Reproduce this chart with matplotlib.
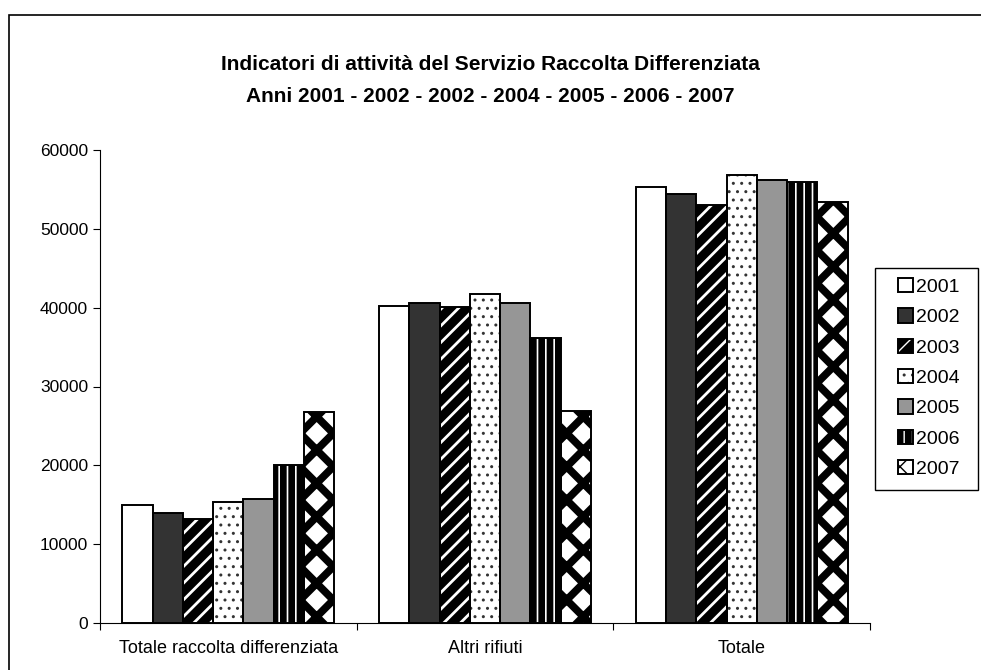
import matplotlib.pyplot as plt
from matplotlib.patches import Patch, Rectangle
import numpy as np

plt.rcParams['font.family'] = ['Liberation Sans', 'DejaVu Sans']

categories = ['Totale raccolta differenziata', 'Altri rifiuti', 'Totale']
years = ['2001', '2002', '2003', '2004', '2005', '2006', '2007']
values = {
    '2001': [15000, 40200, 55300],
    '2002': [13900, 40600, 54400],
    '2003': [13150, 40100, 53050],
    '2004': [15300, 41750, 56850],
    '2005': [15750, 40550, 56200],
    '2006': [20050, 36100, 55950],
    '2007': [26750, 26900, 53450],
}

# face, hatch colour, hatch, hatch linewidth
styles = {
    '2001': ('white', 'black', None, 1.0),
    '2002': ('#333333', 'black', None, 1.0),
    '2003': ('black', 'white', '//', 2.0),
    '2004': ('white', '#333333', '..', 1.0),
    '2005': ('#969696', 'black', None, 1.0),
    '2006': ('black', 'white', '||', 1.2),
    '2007': ('white', 'black', 'x', 5.5),
}

fig = plt.figure(figsize=(9.81, 6.70), dpi=100)
ax = fig.add_axes([100/981, 1-623/670, 770/981, 473/670])

x = np.arange(len(categories))
w = 0.118
handles = []
for i, yr in enumerate(years):
    face, hcol, hatch, hlw = styles[yr]
    pos = x + (i - 3) * w
    with plt.rc_context({'hatch.linewidth': hlw}):
        ax.bar(pos, values[yr], width=w, color=face, edgecolor=hcol,
               hatch=hatch, linewidth=0, zorder=2)
        hp = Patch(facecolor=face, edgecolor=hcol, hatch=hatch, linewidth=0)
    ax.bar(pos, values[yr], width=w, fill=False, edgecolor='black',
           linewidth=1.4, zorder=3)
    op = Patch(fill=False, edgecolor='black', linewidth=1.4)
    handles.append((hp, op))

ax.set_xlim(-0.5, 2.5)
ax.set_ylim(0, 60000)
ax.set_yticks(range(0, 60001, 10000))
ax.set_xticks([-0.5, 0.5, 1.5, 2.5], minor=False)
ax.set_xticklabels([])
ax.set_xticks(x, minor=True)
ax.set_xticklabels(categories, minor=True)
ax.tick_params(axis='x', which='minor', length=0, pad=12, labelsize=13)
ax.tick_params(axis='x', which='major', length=5, direction='out', width=0.8)
ax.tick_params(axis='y', length=5, direction='out', width=0.8, labelsize=12.5)
for s in ['top', 'right']:
    ax.spines[s].set_visible(False)
for s in ['left', 'bottom']:
    ax.spines[s].set_linewidth(0.8)

fig.text(0.5, 1-64/670, 'Indicatori di attività del Servizio Raccolta Differenziata',
         ha='center', va='center', fontsize=15, fontweight='bold')
fig.text(0.5, 1-96/670, 'Anni 2001 - 2002 - 2002 - 2004 - 2005 - 2006 - 2007',
         ha='center', va='center', fontsize=15, fontweight='bold')

# legend entries without frame, box drawn separately
fig.legend(handles, years, loc='upper left',
           bbox_to_anchor=(898/981, 1-278/670), fontsize=14,
           frameon=False, handlelength=0.75, handleheight=0.75,
           handletextpad=0.2, labelspacing=0.64, borderpad=0,
           borderaxespad=0)
fig.patches.append(Rectangle((875/981, 1-490/670), 103/981, 222/670,
                             transform=fig.transFigure, fill=False,
                             edgecolor='black', linewidth=1.0))

fig.patches.append(Rectangle((9/981, -0.1), 1.2, 1-15/670+0.1,
                             transform=fig.transFigure, fill=False,
                             edgecolor='black', linewidth=1.2))

fig.savefig('out.png', dpi=100)
